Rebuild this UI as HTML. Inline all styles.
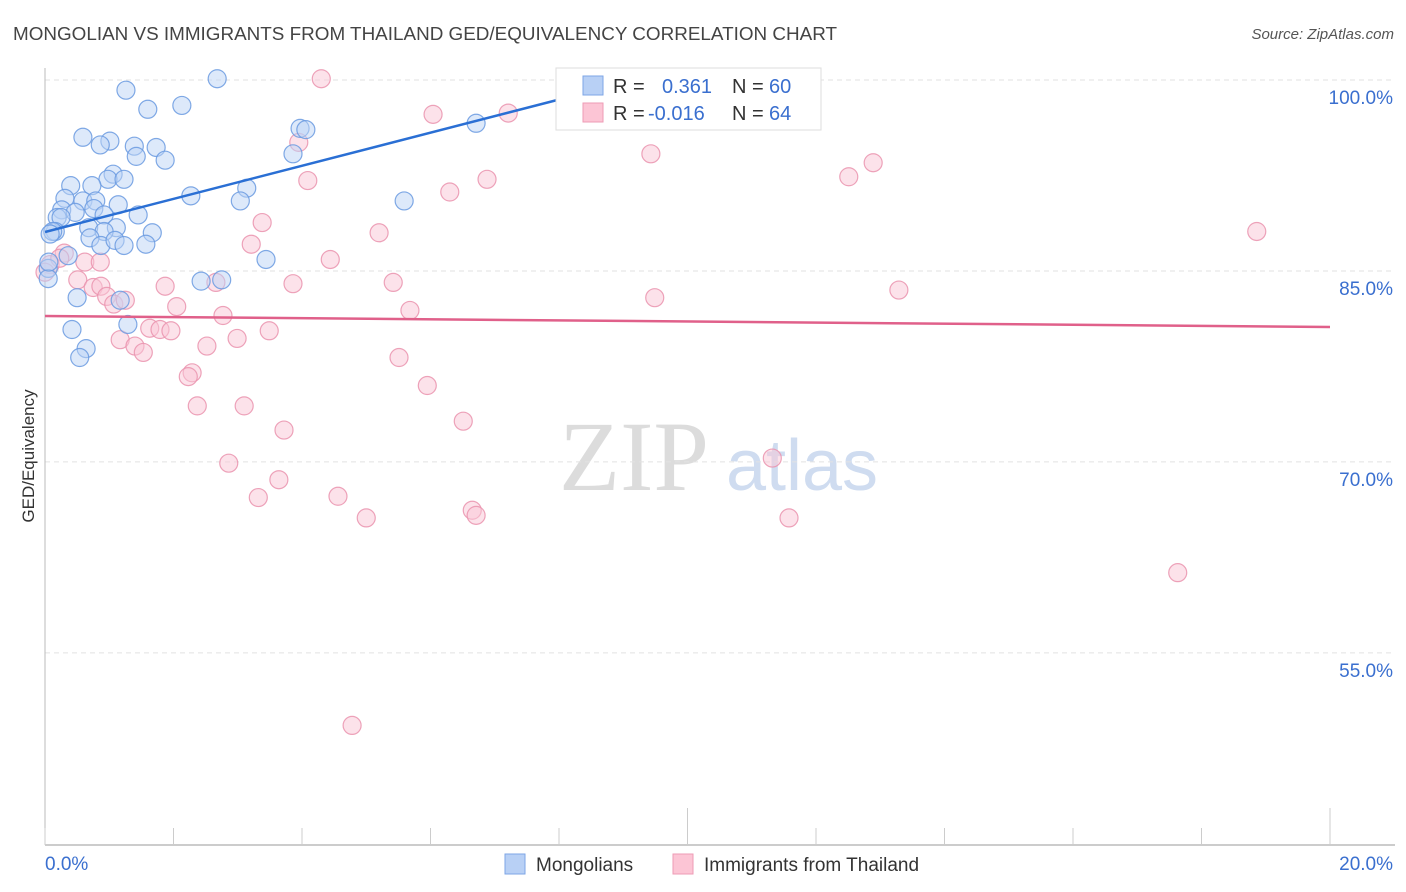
<!DOCTYPE html>
<html><head><meta charset="utf-8"><style>
body{margin:0;background:#fff;font-family:"Liberation Sans",sans-serif}
svg{display:block}
</style></head><body>
<svg id="chart" width="1406" height="892" viewBox="0 0 1406 892" xmlns="http://www.w3.org/2000/svg">
<text x="13" y="40" font-size="18" fill="#444" textLength="824" lengthAdjust="spacingAndGlyphs" font-family="Liberation Sans, sans-serif">MONGOLIAN VS IMMIGRANTS FROM THAILAND GED/EQUIVALENCY CORRELATION CHART</text>
<text x="1394" y="39" font-size="15" fill="#555" font-style="italic" text-anchor="end">Source: ZipAtlas.com</text>
<g>
<text x="634" y="490" font-size="100" fill="#dcdcdc" font-family="Liberation Serif, serif" text-anchor="middle">ZIP</text>
<text x="802" y="490" font-size="72" fill="#cfdcf0" text-anchor="middle">atlas</text>
</g>
<g id="grid"></g>
<g id="axes"></g>
<g id="pinkPts"></g>
<g id="bluePts"></g>
<g id="lines"></g>
<text transform="translate(34,456) rotate(-90)" font-size="17" fill="#333" text-anchor="middle">GED/Equivalency</text>
<g>
<rect x="556" y="68" width="265" height="62" fill="#fff" stroke="#ddd"/>
<rect x="583" y="76" width="20" height="19" fill="#b8d0f5" stroke="#7ea6e6"/>
<rect x="583" y="103" width="20" height="19" fill="#fcc5d5" stroke="#ee9bb5"/>
<text x="613" y="93" font-size="20" fill="#333">R =</text>
<text x="662" y="93" font-size="20" fill="#3a6fcf">0.361</text>
<text x="732" y="93" font-size="20" fill="#333">N =</text>
<text x="769" y="93" font-size="20" fill="#3a6fcf">60</text>
<text x="613" y="120" font-size="20" fill="#333">R =</text>
<text x="648" y="120" font-size="20" fill="#3a6fcf">-0.016</text>
<text x="732" y="120" font-size="20" fill="#333">N =</text>
<text x="769" y="120" font-size="20" fill="#3a6fcf">64</text>
</g>
<g>
<rect x="505" y="854" width="20" height="20" fill="#b8d0f5" stroke="#7ea6e6"/>
<text x="536" y="871" font-size="19" fill="#333">Mongolians</text>
<rect x="673" y="854" width="20" height="20" fill="#fcc5d5" stroke="#ee9bb5"/>
<text x="704" y="871" font-size="19" fill="#333">Immigrants from Thailand</text>
</g>
</svg>
<script>
const blueX=[2.68,1.26,1.60,2.13,0.59,1.01,0.86,1.39,1.73,1.42,1.87,3.97,4.06,3.86,1.06,0.98,1.23,0.40,0.73,2.27,3.14,3.04,5.59,6.71,0.31,0.59,0.79,1.14,0.76,0.26,0.19,0.47,0.92,1.45,0.25,0.16,0.12,0.68,1.11,0.92,1.67,0.70,0.87,1.09,1.23,1.57,3.44,0.36,0.05,0.05,0.50,1.17,2.43,2.75,1.29,0.42,0.64,0.54,0.06,0.08];
const blueY=[100.1,99.2,97.7,98.0,95.5,95.2,94.9,94.8,94.7,94.0,93.7,96.2,96.1,94.2,92.6,92.2,92.2,91.7,91.7,90.9,91.5,90.5,90.5,96.6,90.7,90.5,90.5,90.2,89.9,89.8,89.2,89.6,89.4,89.4,89.2,88.1,88.1,88.4,88.4,88.1,88.0,87.6,87.0,87.4,87.0,87.1,85.9,86.2,85.2,84.4,82.9,82.7,84.2,84.3,80.8,80.4,78.9,78.2,85.7,87.9];
const pinkX=[4.30,6.04,7.21,3.95,9.43,12.89,12.51,6.88,4.09,6.30,3.38,5.20,18.86,3.21,4.44,0.62,0.30,0.51,0.75,0.87,1.87,2.66,3.86,5.42,13.29,9.49,0.96,1.07,1.25,2.05,2.77,5.68,1.63,1.79,1.96,3.49,1.17,1.40,1.53,2.52,2.99,5.51,2.29,2.23,5.95,2.37,3.10,6.51,3.72,11.32,2.86,3.64,3.32,4.56,5.00,6.65,6.71,11.58,17.63,4.78,0.08,0.0,0.23,0.86];
const pinkY=[100.1,97.3,97.4,95.1,94.2,93.5,92.4,92.2,92.1,91.2,88.8,88.0,88.1,87.1,85.9,85.7,86.4,84.3,83.7,83.8,83.8,84.1,84.0,84.1,83.5,82.9,83.0,82.4,82.7,82.2,81.5,81.9,80.5,80.4,80.3,80.3,79.6,79.1,78.6,79.1,79.7,78.2,77.0,76.7,76.0,74.4,74.4,73.2,72.5,70.3,69.9,68.6,67.2,67.3,65.6,66.2,65.8,65.6,61.3,49.3,85.5,84.9,86.0,85.7];
const yTicks=[100,85,70,55];
const yTickLabels=["100.0%","85.0%","70.0%","55.0%"];
const xTickVals=[0,2,4,6,8,10,12,14,16,18,20];
const xEndLabels=["0.0%","20.0%"];
const blueTrend=[[0,88.06],[7.95,98.4]];
const pinkTrend=[[0,81.46],[20,80.6]];
const NS="http://www.w3.org/2000/svg";
const sx=v=>45+v*64.25;
const sy=v=>80+(100-v)*12.73;
function mk(tag,attrs,parent){const e=document.createElementNS(NS,tag);for(const k in attrs)e.setAttribute(k,attrs[k]);parent.appendChild(e);return e;}
const grid=document.getElementById('grid'),axes=document.getElementById('axes');
yTicks.forEach((t,i)=>{
 const l=mk('line',{x1:45,x2:1395,y1:sy(t),y2:sy(t),stroke:'#e2e2e2','stroke-dasharray':'5,4'},grid);
 
 
 const tx=mk('text',{x:1393,y:sy(t)+24,'font-size':19,fill:'#3a6fcf','text-anchor':'end'},axes);
 tx.textContent=yTickLabels[i];
 
 
});
const ya=mk('line',{x1:45,x2:45,y1:68,y2:845,stroke:'#bbb'},axes);


const xa=mk('line',{x1:45,x2:1395,y1:845,y2:845,stroke:'#bbb','stroke-width':1.5},axes);


xTickVals.forEach(v=>{
 const long=(v===10||v===20);
 const t=mk('line',{x1:sx(v),x2:sx(v),y1:long?808:828,y2:845,stroke:'#ccc'},axes);
 
 
});
[[0,'start'],[20,'end']].forEach((p,i)=>{
 const t=mk('text',{x:i?1393:45,y:870,'font-size':19,fill:'#3a6fcf','text-anchor':p[1]},axes);
 t.textContent=xEndLabels[i];
 
 
});
function pts(xs,ys,g,fill,stroke,name){
 const G=document.getElementById(g);
 xs.forEach((x,i)=>{
  const c=mk('circle',{cx:sx(x),cy:sy(ys[i]),r:9,fill:fill,'fill-opacity':0.5,stroke:stroke,'stroke-opacity':0.85,'stroke-width':1.2},G);
  
  
 });
}
pts(pinkX,pinkY,'pinkPts','#f9c6d5','#ea93ae','thailand-point');
pts(blueX,blueY,'bluePts','#bcd3f5','#6a9ae0','mongolian-point');
const L=document.getElementById('lines');
const bl=mk('line',{x1:sx(blueTrend[0][0]),y1:sy(blueTrend[0][1]),x2:sx(blueTrend[1][0]),y2:sy(blueTrend[1][1]),stroke:'#2a6fd4','stroke-width':2.5},L);


const pl=mk('line',{x1:sx(pinkTrend[0][0]),y1:sy(pinkTrend[0][1]),x2:sx(pinkTrend[1][0]),y2:sy(pinkTrend[1][1]),stroke:'#e0608a','stroke-width':2.5},L);


</script>
</body></html>
